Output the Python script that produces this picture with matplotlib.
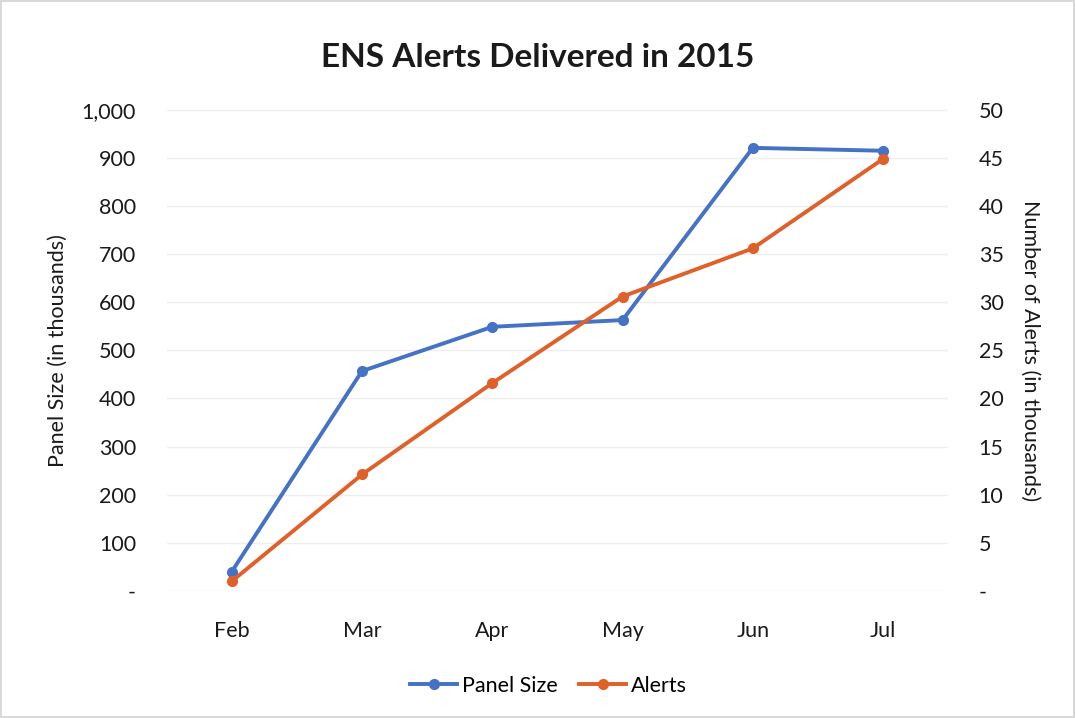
import matplotlib.pyplot as plt
from matplotlib.ticker import FuncFormatter, MultipleLocator

months = ["Feb", "Mar", "Apr", "May", "Jun", "Jul"]
panel_size = [40, 457, 549, 563, 921, 915]
alerts = [1.0, 12.1, 21.6, 30.6, 35.6, 44.9]

blue = "#4472C4"
orange = "#E0602A"
text_color = "#1a1a1a"

plt.rcParams["font.family"] = ["Lato", "DejaVu Sans"]

fig = plt.figure(figsize=(10.75, 7.18), dpi=100)
fig.patch.set_facecolor("white")
fig.patch.set_edgecolor("#d9d9d9")
fig.patch.set_linewidth(1.5)

ax = fig.add_axes([0.155, 0.177, 0.727, 0.670])
ax2 = ax.twinx()

x = list(range(len(months)))

line1, = ax.plot(x, panel_size, color=blue, linewidth=2.8,
                 marker="o", markersize=7, label="Panel Size", zorder=3)
line2, = ax2.plot(x, alerts, color=orange, linewidth=2.8,
                  marker="o", markersize=7, label="Alerts", zorder=3)

ax.set_xlim(-0.5, len(months) - 0.5)
ax.set_ylim(0, 1000)
ax2.set_ylim(0, 50)
ax.yaxis.set_major_locator(MultipleLocator(100))
ax2.yaxis.set_major_locator(MultipleLocator(5))


def fmt(v, _):
    return "-" if v == 0 else f"{v:,.0f}"


ax.yaxis.set_major_formatter(FuncFormatter(fmt))
ax2.yaxis.set_major_formatter(FuncFormatter(fmt))

ax.set_xticks(x)
ax.set_xticklabels(months)

for a in (ax, ax2):
    for s in a.spines.values():
        s.set_visible(False)
    a.tick_params(length=0, labelsize=15.5, colors=text_color)
ax.tick_params(axis="y", pad=22)
ax2.tick_params(axis="y", pad=22)
ax.tick_params(axis="x", pad=22)

ax.grid(axis="y", color="#eeeeee", linewidth=1)
ax.set_axisbelow(True)

ax.set_ylabel("Panel Size (in thousands)", fontsize=15.5, color=text_color, labelpad=10)
ax2.set_ylabel("Number of Alerts (in thousands)", fontsize=15.5, color=text_color,
               rotation=270, labelpad=26)

fig.suptitle("ENS Alerts Delivered in 2015", fontsize=24, fontweight="bold",
             color=text_color, y=0.94)

fig.legend(handles=[line1, line2], loc="center", bbox_to_anchor=(0.51, 0.045),
           ncol=2, frameon=False, fontsize=15.5, handlelength=2.2,
           handletextpad=0.2, columnspacing=1.0)

fig.savefig("out.png", dpi=100)
